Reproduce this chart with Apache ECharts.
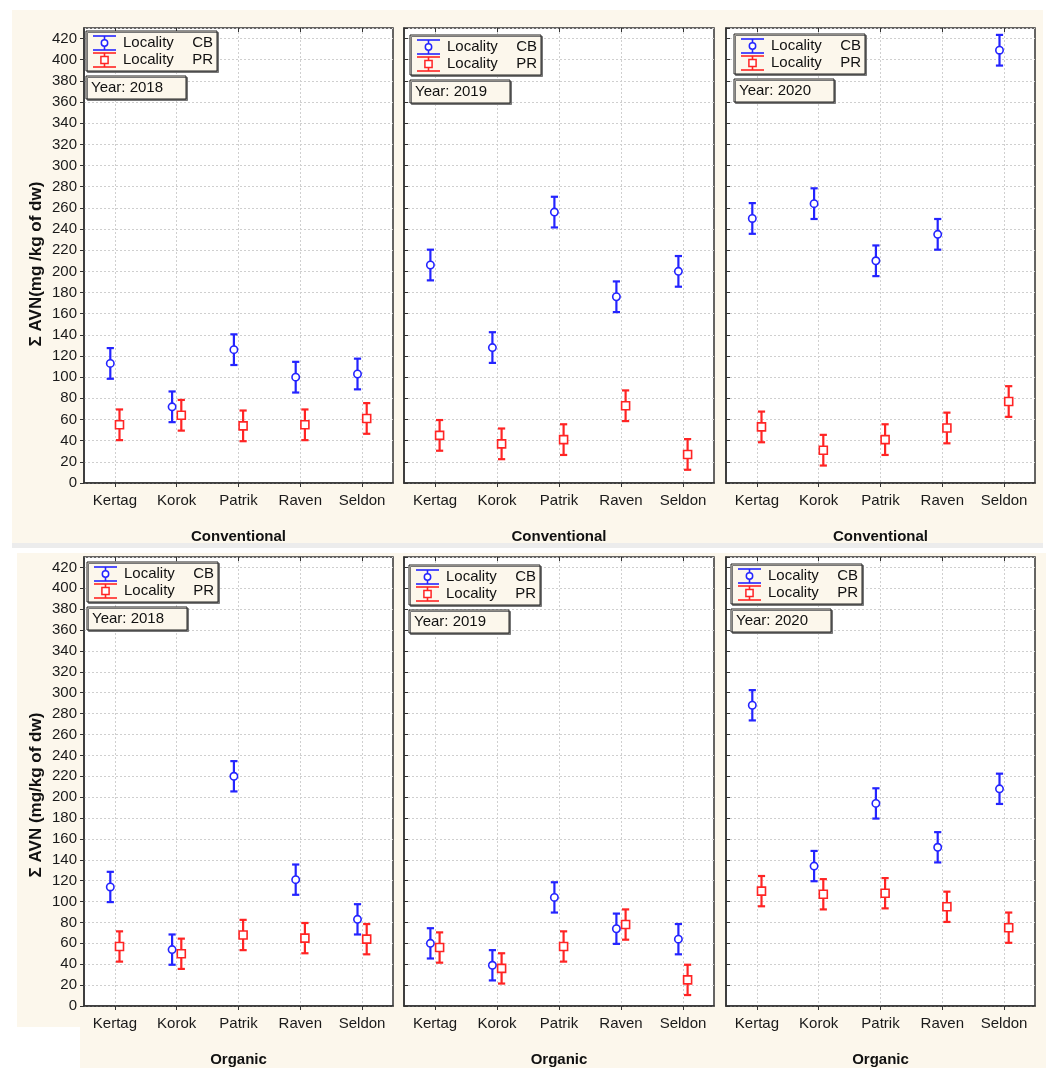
<!DOCTYPE html>
<html>
<head>
<meta charset="utf-8">
<script src="https://cdn.jsdelivr.net/npm/echarts@6/dist/echarts.min.js"></script>
<style>
  html, body { margin: 0; padding: 0; background: #ffffff; }
  #chart { width: 1046px; height: 1068px; }
</style>
</head>
<body>
<div id="chart"></div>
<script>
// ---------------- DATA ----------------
const categories = ['Kertag', 'Korok', 'Patrik', 'Raven', 'Seldon'];
const years = ['2018', '2019', '2020'];
const systems = ['Conventional', 'Organic'];
const seriesNames = ['CB', 'PR'];
const yTitles = ['Σ AVN(mg /kg of dw)', 'Σ AVN (mg/kg of dw)'];

// Conventional, locality CB (means) per year
const convCB2018 = [113, 72, 126, 100, 103];
const convCB2019 = [206, 128, 256, 176, 200];
const convCB2020 = [250, 264, 210, 235, 409];
// Conventional, locality PR
const convPR2018 = [55, 64, 54, 55, 61];
const convPR2019 = [45, 37, 41, 73, 27];
const convPR2020 = [53, 31, 41, 52, 77];
// Organic, locality CB
const orgCB2018 = [114, 54, 220, 121, 83];
const orgCB2019 = [60, 39, 104, 74, 64];
const orgCB2020 = [288, 134, 194, 152, 208];
// Organic, locality PR
const orgPR2018 = [57, 50, 68, 65, 64];
const orgPR2019 = [56, 36, 57, 78, 25];
const orgPR2020 = [110, 107, 108, 95, 75];

// half-length of the error bars (same for every point in the picture)
const errHalf = 14.5;

// y axis
const yMin = 0, yMax = 430, yStep = 20;

// ---------------- LAYOUT ----------------
const colX = [[84, 393], [404, 714], [726, 1035]];
const rowY = [[28, 483], [557, 1013]];
const yTitleCenters = [264, 795];
const legendOffsets = [
  [[2, 3], [6, 7], [8, 6]],
  [[3, 5], [5, 8], [5, 7]]
];
const BLUE = '#2424ff', RED = '#ff2424';
const FONT = '"Liberation Sans", Arial, sans-serif';

const panelData = [
  [[convCB2018, convPR2018], [convCB2019, convPR2019], [convCB2020, convPR2020]],
  [[orgCB2018, orgPR2018], [orgCB2019, orgPR2019], [orgCB2020, orgPR2020]]
];

function toErrData(vals) {
  return vals.map((v, i) => [i, v, v - errHalf, v + errHalf]);
}

function makeRender(offsetPx, kind, color) {
  return function (params, api) {
    const c = api.value(0);
    const p = api.coord([c, api.value(1)]);
    const lo = api.coord([c, api.value(2)]);
    const hi = api.coord([c, api.value(3)]);
    const x = p[0] + offsetPx;
    const cap = 3.6;
    const st = { stroke: color, lineWidth: 2.2 };
    const children = [
      { type: 'line', shape: { x1: x, y1: hi[1], x2: x, y2: lo[1] }, style: st },
      { type: 'line', shape: { x1: x - cap, y1: hi[1], x2: x + cap, y2: hi[1] }, style: st },
      { type: 'line', shape: { x1: x - cap, y1: lo[1], x2: x + cap, y2: lo[1] }, style: st }
    ];
    if (kind === 'circle') {
      children.push({ type: 'circle', shape: { cx: x, cy: p[1], r: 3.7 },
        style: { fill: '#fff', stroke: color, lineWidth: 1.6 } });
    } else {
      children.push({ type: 'rect', shape: { x: x - 4, y: p[1] - 4, width: 8, height: 8 },
        style: { fill: '#fff', stroke: color, lineWidth: 1.6 } });
    }
    return { type: 'group', children: children };
  };
}

const grids = [], xAxes = [], yAxes = [], series = [], graphics = [];

// page backgrounds
graphics.push({ type: 'rect', z: -100, shape: { x: 12, y: 10, width: 1031, height: 533 }, style: { fill: '#fcf7ec' } });
graphics.push({ type: 'rect', z: -100, shape: { x: 12, y: 543, width: 1031, height: 5 }, style: { fill: '#ececec' } });
graphics.push({ type: 'rect', z: -100, shape: { x: 80, y: 553, width: 966, height: 515 }, style: { fill: '#fcf7ec' } });
graphics.push({ type: 'rect', z: -100, shape: { x: 17, y: 553, width: 63, height: 474 }, style: { fill: '#fcf7ec' } });

function legendGraphic(gx, gy, year) {
  const w = 131, h = 40;
  const els = [];
  els.push({ type: 'rect', z: 100, shape: { x: gx, y: gy, width: w, height: h },
    style: { fill: '#fcf7ec', stroke: '#222', lineWidth: 1, shadowColor: '#777', shadowOffsetX: 1.5, shadowOffsetY: 1.5, shadowBlur: 0 } });
  const icons = [
    { color: BLUE, cy: gy + 12, kind: 'circle', name: seriesNames[0] },
    { color: RED, cy: gy + 29, kind: 'rect', name: seriesNames[1] }
  ];
  icons.forEach(ic => {
    const x1 = gx + 7, x2 = gx + 30, xc = (x1 + x2) / 2;
    const st = { stroke: ic.color, lineWidth: 1.6 };
    els.push({ type: 'line', z: 101, shape: { x1: x1, y1: ic.cy - 7, x2: x2, y2: ic.cy - 7 }, style: st });
    els.push({ type: 'line', z: 101, shape: { x1: x1, y1: ic.cy + 7, x2: x2, y2: ic.cy + 7 }, style: st });
    els.push({ type: 'line', z: 101, shape: { x1: xc, y1: ic.cy - 7, x2: xc, y2: ic.cy + 7 }, style: st });
    if (ic.kind === 'circle') {
      els.push({ type: 'circle', z: 102, shape: { cx: xc, cy: ic.cy, r: 3.2 }, style: { fill: '#fff', stroke: ic.color, lineWidth: 1.5 } });
    } else {
      els.push({ type: 'rect', z: 102, shape: { x: xc - 3.6, y: ic.cy - 3.6, width: 7.2, height: 7.2 }, style: { fill: '#fff', stroke: ic.color, lineWidth: 1.5 } });
    }
    els.push({ type: 'text', z: 102, x: gx + 37, y: ic.cy, style: { text: 'Locality', font: '15px ' + FONT, fill: '#111', verticalAlign: 'middle' } });
    els.push({ type: 'text', z: 102, x: gx + w - 4, y: ic.cy, style: { text: ic.name, font: '15px ' + FONT, fill: '#111', verticalAlign: 'middle', align: 'right' } });
  });
  // year box
  els.push({ type: 'rect', z: 100, shape: { x: gx, y: gy + 45, width: 100, height: 23 },
    style: { fill: '#fcf7ec', stroke: '#222', lineWidth: 1, shadowColor: '#777', shadowOffsetX: 1.5, shadowOffsetY: 1.5, shadowBlur: 0 } });
  els.push({ type: 'text', z: 102, x: gx + 5, y: gy + 45 + 11.5, style: { text: 'Year: ' + year, font: '15px ' + FONT, fill: '#111', verticalAlign: 'middle' } });
  return els;
}

let gi = 0;
for (let r = 0; r < 2; r++) {
  // y-axis title for the row
  graphics.push({ type: 'text', z: 50, x: 36, y: yTitleCenters[r], rotation: Math.PI / 2,
    style: { text: yTitles[r], font: 'bold 17px ' + FONT, fill: '#111', align: 'center', verticalAlign: 'middle' } });
  for (let c = 0; c < 3; c++) {
    const [x0, x1] = colX[c];
    const [y0, y1] = rowY[r];
    grids.push({ left: x0, top: y0, width: x1 - x0, height: y1 - y0, show: true,
      backgroundColor: '#ffffff', borderColor: '#333', borderWidth: 1.5, containLabel: false });
    xAxes.push({
      type: 'category', gridIndex: gi, data: categories, position: 'bottom',
      name: systems[r], nameLocation: 'middle', nameGap: 46,
      nameTextStyle: { fontFamily: FONT, fontWeight: 'bold', fontSize: 15, color: '#111' },
      axisLine: { show: true, lineStyle: { color: '#333', width: 1.5 } },
      axisTick: { show: true, alignWithLabel: true, length: 4, lineStyle: { color: '#333' } },
      axisLabel: { fontFamily: FONT, fontSize: 15, color: '#1a1a1a', margin: 10 },
      splitLine: { show: true, alignWithLabel: true, lineStyle: { color: '#cfcfcf', type: [2, 2], width: 1 } }
    });
    xAxes.push({
      type: 'category', gridIndex: gi, data: categories, position: 'top',
      axisLine: { show: false },
      axisTick: { show: true, inside: true, alignWithLabel: true, length: 4, lineStyle: { color: '#333' } },
      axisLabel: { show: false },
      splitLine: { show: false }
    });
    yAxes.push({
      type: 'value', gridIndex: gi, min: yMin, max: yMax, interval: yStep,
      axisLine: { show: true, lineStyle: { color: '#333', width: 1.5 } },
      axisTick: { show: true, inside: c !== 0, length: 4, lineStyle: { color: '#333' } },
      axisLabel: { show: c === 0, fontFamily: FONT, fontSize: 15, color: '#1a1a1a', margin: 7, showMaxLabel: false },
      splitLine: { show: true, lineStyle: { color: '#cfcfcf', type: [2, 2], width: 1 } }
    });
    const [cb, pr] = panelData[r][c];
    series.push({ type: 'custom', name: 'CB', xAxisIndex: gi * 2, yAxisIndex: gi, clip: false, z: 5,
      renderItem: makeRender(-4.6, 'circle', BLUE), data: toErrData(cb),
      encode: { x: 0, y: [1, 2, 3] } });
    series.push({ type: 'custom', name: 'PR', xAxisIndex: gi * 2, yAxisIndex: gi, clip: false, z: 5,
      renderItem: makeRender(4.6, 'rect', RED), data: toErrData(pr),
      encode: { x: 0, y: [1, 2, 3] } });
    const off = legendOffsets[r][c];
    graphics.push(...legendGraphic(x0 + off[0], y0 + off[1], years[c]));
    gi++;
  }
}

const chart = echarts.init(document.getElementById('chart'), null, { renderer: 'canvas' });
chart.setOption({
  animation: false,
  backgroundColor: '#ffffff',
  grid: grids,
  xAxis: xAxes,
  yAxis: yAxes,
  series: series,
  graphic: graphics
});
</script>
</body>
</html>
